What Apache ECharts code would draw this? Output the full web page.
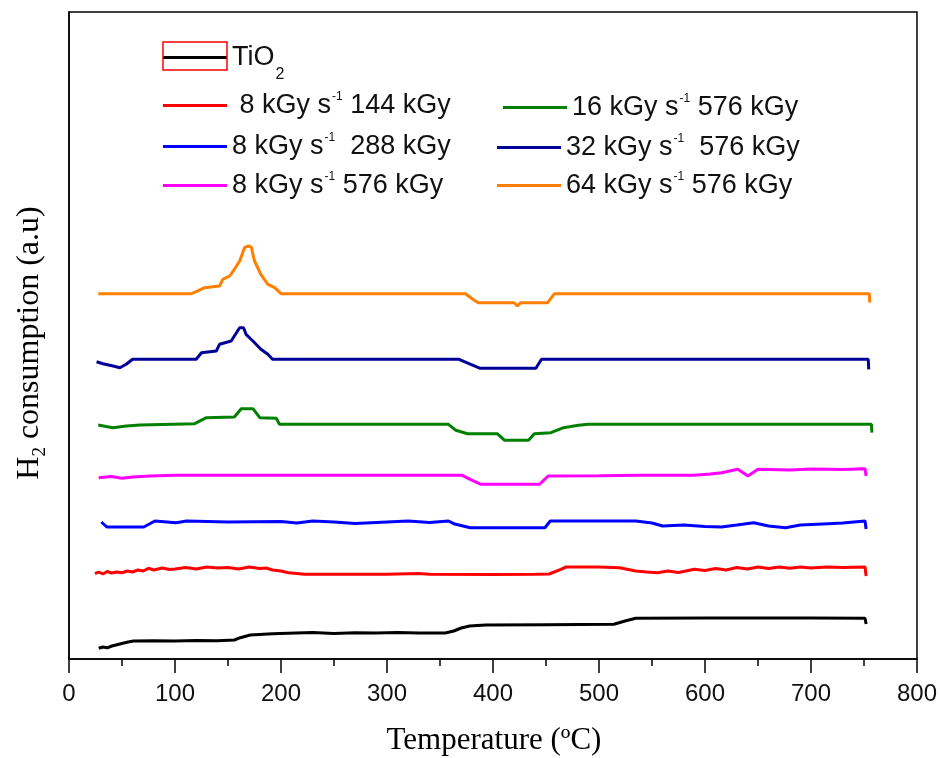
<!DOCTYPE html>
<html><head><meta charset="utf-8">
<script src="https://cdn.jsdelivr.net/npm/echarts@6/dist/echarts.min.js"></script>
<style>html,body{margin:0;padding:0;background:#fff}#c{width:940px;height:758px}</style>
</head><body><div id="c"></div>
<script>
// ---- data (temperature in °C, H2 consumption in a.u.) ----
var seriesNames = ['TiO2', '8 kGy s-1 144 kGy', '8 kGy s-1 288 kGy', '8 kGy s-1 576 kGy', '16 kGy s-1 576 kGy', '32 kGy s-1 576 kGy', '64 kGy s-1 576 kGy'];
var xTicks = [0, 100, 200, 300, 400, 500, 600, 700, 800];

var tBlack = [28, 32, 36, 40.5, 48, 55.7, 61, 80, 100, 120, 140, 156, 161.6, 171, 192, 214, 230, 250, 270, 290, 310, 330, 355, 363, 370, 378, 385, 393.6, 450, 514, 524.6, 534.6, 600, 650, 700, 751, 752];
var vBlack = [10.7, 12, 11.2, 13, 15, 17, 18, 18.3, 18, 18.5, 18.2, 19, 21.3, 24, 25.3, 26, 26.5, 25.5, 26.3, 26, 26.5, 26, 26, 28, 31, 33, 33.5, 34, 34.3, 34.7, 38, 40.7, 41, 41, 41, 40.7, 35];

var tRed = [24.5, 28, 32, 36, 40, 45, 50, 55, 60, 65, 70, 75, 80, 88, 95, 100, 110, 120, 130, 140, 150, 160, 170, 180, 186, 192, 200, 207, 215, 222, 300, 330, 340, 400, 440, 453, 464, 469, 500, 519.5, 534.6, 545, 555, 565, 575, 590, 600, 610, 620, 630, 640, 650, 660, 670, 680, 690, 700, 715, 730, 751, 752];
var vRed = [85.3, 87, 85, 87.5, 86, 87, 86.3, 88, 87, 89, 88, 90.7, 89, 91, 89.5, 90, 91.5, 90, 92, 91, 91.5, 90, 92, 90.5, 91, 89, 88, 86.3, 85.5, 84.7, 84.7, 85.5, 84.7, 84.5, 84.7, 85, 89.7, 92, 92, 91.3, 88, 87, 86.3, 88, 86.5, 89.7, 88.5, 90.5, 89, 91.5, 90, 92, 90.5, 92, 90.8, 92, 91, 92, 91.5, 92, 83];

var tBlue = [30.5, 35.7, 70.6, 81, 101, 111, 150, 200, 215, 230, 250, 270, 300, 320, 340, 358, 363, 378.5, 449, 454, 534.6, 550, 560, 580, 600, 615.6, 630, 646, 660, 676, 690, 716, 730, 751, 752];
var vBlue = [137, 132, 132, 138, 136.3, 138, 137, 137.5, 136, 138, 137, 135.5, 137, 138, 136.5, 138, 135.3, 131.3, 131.3, 138, 138, 136, 133, 134, 132.5, 132, 134, 136.3, 133, 131.3, 134, 135.3, 136, 138, 130];

var tPink = [28, 40, 50, 60, 76, 101, 200, 300, 371, 378.5, 388.7, 444, 452, 500, 540, 590, 605, 615.6, 631, 640.5, 650, 680, 700, 730, 751, 752];
var vPink = [181.3, 182.5, 180.7, 182, 183, 183.7, 183.7, 183.7, 183.7, 179.7, 174.7, 174.7, 183, 183.2, 183.7, 183.7, 185, 186.3, 189.7, 183, 189.7, 189, 190, 189.5, 190.3, 183];

var tGreen = [27.6, 35, 41.6, 54, 67, 118.6, 129.6, 156, 162.5, 173.5, 180, 195.5, 198.6, 358, 365, 376, 404, 411, 433.5, 439, 454.6, 466.6, 480.6, 490, 757, 757.5];
var vGreen = [234, 232.5, 231.3, 233, 234, 235.3, 241.3, 242, 250.3, 250.3, 241.3, 240.7, 234.7, 234.7, 228.7, 225.3, 225.3, 218.7, 218.7, 225.3, 226.3, 231.3, 233.7, 234.7, 234.7, 226.3];

var tNavy = [26, 32, 41.6, 48, 54, 60, 120, 125, 139, 142, 153, 156, 161, 164.7, 167, 173.5, 181, 187.6, 192, 368, 379, 388, 440.5, 445.7, 754, 754.5];
var vNavy = [297.3, 295.3, 293, 291.3, 294.7, 299.7, 299.7, 306.3, 308, 314.7, 318, 323, 331.3, 331.3, 324.7, 318, 309.7, 304.7, 299.7, 299.7, 294.7, 290.7, 290.7, 299.7, 299.7, 289.7];

var tOrange = [27.6, 115.5, 120, 128, 142, 145, 151.6, 156, 161, 165.6, 168.8, 172, 175, 181, 187.6, 194, 200, 374, 381, 386, 420, 423, 426, 451.5, 458, 755, 755.5];
var vOrange = [365.3, 365.3, 367.3, 371.3, 373, 379.7, 383, 389.7, 398, 411.3, 413, 412, 398, 384.7, 374.7, 371.3, 365.3, 365.3, 359.7, 356.3, 356.3, 353, 356.3, 356.3, 365.3, 365.3, 356.3];

var colors = ['#000000', '#ff0000', '#0000ff', '#ff00ff', '#008000', '#000099', '#ff8000'];
var legendRich = [
  '{n|TiO}{sub|2}',
  '{n| 8 kGy s}{sup|-1}{n| 144 kGy}',
  '{n|8 kGy s}{sup|-1}{n|  288 kGy}',
  '{n|8 kGy s}{sup|-1}{n| 576 kGy}',
  '{n|16 kGy s}{sup|-1}{n| 576 kGy}',
  '{n|32 kGy s}{sup|-1}{n|  576 kGy}',
  '{n|64 kGy s}{sup|-1}{n| 576 kGy}'
];

function zip(t, v) { return t.map(function (x, i) { return [x, v[i]]; }); }
var allData = [zip(tBlack, vBlack), zip(tRed, vRed), zip(tBlue, vBlue), zip(tPink, vPink), zip(tGreen, vGreen), zip(tNavy, vNavy), zip(tOrange, vOrange)];

var legendPos = [[163, 44], [163, 91], [163, 132], [163, 171], [503, 93], [497, 133], [497, 171]];
var richStyle = {
  n: { fontSize: 27, fontFamily: 'Liberation Sans', color: '#111', lineHeight: 30 },
  sup: { fontSize: 12, fontFamily: 'Liberation Sans', color: '#111', padding: [0, 0, 17, 1] },
  sub: { fontSize: 16, fontFamily: 'Liberation Sans', color: '#111', padding: [34, 0, 0, 1] }
};
var legends = seriesNames.map(function (nm, i) {
  return {
    data: [nm], left: legendPos[i][0], top: legendPos[i][1], padding: 0,
    orient: 'horizontal', icon: 'rect', itemWidth: 64, itemHeight: 3, itemGap: 5,
    selectedMode: false,
    formatter: function () { return legendRich[i]; },
    textStyle: { rich: richStyle, padding: 0 }
  };
});

var series = seriesNames.map(function (nm, i) {
  return {
    name: nm, type: 'line', data: allData[i], showSymbol: false, symbol: 'none',
    color: colors[i], lineStyle: { color: colors[i], width: 3 }, z: 3
  };
});

var chart = echarts.init(document.getElementById('c'), null, { renderer: 'canvas' });
chart.setOption({
  animation: false,
  backgroundColor: '#fff',
  grid: { left: 69, right: 20, top: 12, bottom: 99, show: true, borderColor: '#000', borderWidth: 1.5, backgroundColor: 'transparent' },
  xAxis: {
    type: 'value', min: xTicks[0], max: xTicks[xTicks.length - 1], interval: 100,
    axisLine: { show: true, lineStyle: { color: '#000', width: 1.5 } },
    axisTick: { show: true, inside: false, length: 14, lineStyle: { color: '#000', width: 1.5 } },
    minorTick: { show: true, splitNumber: 2, length: 7, lineStyle: { color: '#000', width: 1.5 } },
    splitLine: { show: false }, minorSplitLine: { show: false },
    axisLabel: { fontSize: 24, fontFamily: 'Liberation Sans', color: '#111', margin: 23 }
  },
  yAxis: {
    type: 'value', min: 0, max: 647,
    axisLine: { show: true, lineStyle: { color: '#000', width: 1.5 } },
    axisTick: { show: false }, axisLabel: { show: false }, splitLine: { show: false }
  },
  legend: legends,
  series: series,
  graphic: [
    { type: 'rect', shape: { x: 163, y: 42, width: 64, height: 28 }, style: { fill: 'none', stroke: '#ff0000', lineWidth: 1.5 }, z: 10 },
    { type: 'text', x: 494, y: 741, style: { text: 'Temperature (ºC)', font: '31px "Liberation Serif"', fill: '#000', align: 'center', verticalAlign: 'middle' } },
    { type: 'text', x: 30, y: 343, rotation: Math.PI / 2,
      style: { text: '{n|H}{s|2}{n| consumption (a.u)}', align: 'center', verticalAlign: 'middle', fill: '#000',
        rich: { n: { fontSize: 32, fontFamily: 'Liberation Serif', color: '#000', lineHeight: 36 },
                s: { fontSize: 19, fontFamily: 'Liberation Serif', color: '#000', padding: [20, 0, 0, 0] } } } }
  ]
});
</script>
</body></html>
